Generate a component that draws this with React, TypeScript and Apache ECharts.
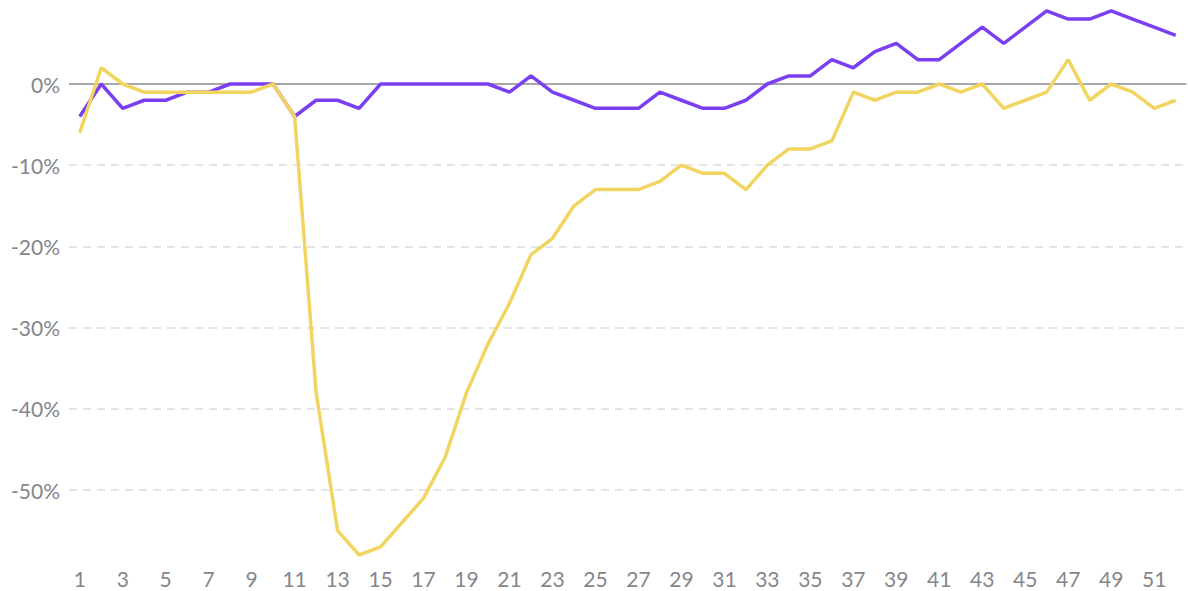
import React, { useEffect, useRef } from "react";
import * as echarts from "echarts";

const weeks: string[] = Array.from({ length: 52 }, (_, i) => String(i + 1));

const purpleValues: number[] = [
  -4, 0, -3, -2, -2, -1, -1, 0, 0, 0,
  -4, -2, -2, -3, 0, 0, 0, 0, 0, 0,
  -1, 1, -1, -2, -3, -3, -3, -1, -2, -3,
  -3, -2, 0, 1, 1, 3, 2, 4, 5, 3,
  3, 5, 7, 5, 7, 9, 8, 8, 9, 8,
  7, 6,
];

const yellowValues: number[] = [
  -6, 2, 0, -1, -1, -1, -1, -1, -1, 0,
  -4, -38, -55, -58, -57, -54, -51, -46, -38, -32,
  -27, -21, -19, -15, -13, -13, -13, -12, -10, -11,
  -11, -13, -10, -8, -8, -7, -1, -2, -1, -1,
  0, -1, 0, -3, -2, -1, 3, -2, 0, -1,
  -3, -2,
];

const dashedGridValues: number[] = [-10, -20, -30, -40, -50];
const zeroLineValue = 0;
const yMin = -58;
const yMax = 10;

export default function App() {
  const ref = useRef<HTMLDivElement>(null);

  useEffect(() => {
    if (!ref.current) return;
    const chart = echarts.init(ref.current, undefined, { renderer: "svg" });
    const font = "Lato, 'Open Sans', sans-serif";
    const labelColor = "#85858c";
    chart.setOption({
      animation: false,
      backgroundColor: "#ffffff",
      grid: { left: 69, right: 1.6, top: 2.8, bottom: 36, containLabel: false },
      xAxis: {
        type: "category",
        data: weeks,
        boundaryGap: true,
        axisLine: { show: false },
        axisTick: { show: false },
        axisLabel: {
          interval: 1,
          color: labelColor,
          fontSize: 21,
          fontFamily: font,
          margin: 13,
        },
        splitLine: { show: false },
      },
      yAxis: {
        type: "value",
        min: yMin,
        max: yMax,
        splitNumber: 7,
        axisLine: { show: false },
        axisTick: { show: false },
        splitLine: { show: false },
        axisLabel: {
          color: labelColor,
          fontSize: 21,
          fontFamily: font,
          margin: 9,
          formatter: (v: number) =>
            Math.abs(v % 10) < 1e-9 && v <= 0 ? `${v}%` : "",
        },
      },
      series: [
        {
          type: "line",
          name: "grid",
          z: 1,
          data: weeks.map(() => null),
          showSymbol: false,
          silent: true,
          lineStyle: { opacity: 0 },
          markLine: {
            silent: true,
            z: 1,
            symbol: "none",
            label: { show: false },
            animation: false,
            data: [
              ...dashedGridValues.map((v) => ({
                yAxis: v,
                lineStyle: { color: "#dcdcdc", type: [8, 6], width: 1.5 },
              })),
              {
                yAxis: zeroLineValue,
                lineStyle: { color: "#a8a8ac", type: "solid", width: 2 },
              },
            ],
          },
        },
        {
          type: "line",
          name: "purple",
          z: 3,
          data: purpleValues,
          showSymbol: false,
          symbol: "none",
          lineStyle: { color: "#7b3ff2", width: 3.5 },
          itemStyle: { color: "#7b3ff2" },
        },
        {
          type: "line",
          name: "yellow",
          z: 4,
          data: yellowValues,
          showSymbol: false,
          symbol: "none",
          lineStyle: { color: "#f2d561", width: 3.5 },
          itemStyle: { color: "#f2d561" },
        },
      ],
    });
    return () => chart.dispose();
  }, []);

  return (
    <div
      ref={ref}
      style={{ position: "fixed", left: 0, top: 0, width: 1188, height: 591 }}
    />
  );
}
